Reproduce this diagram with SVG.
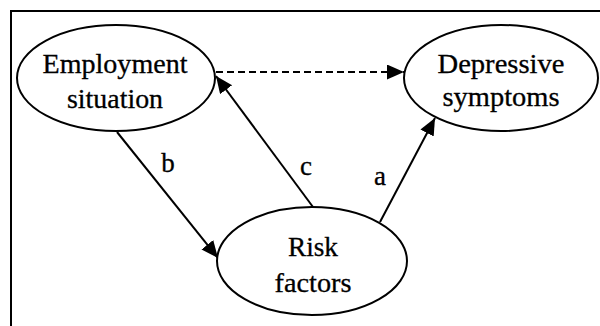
<svg xmlns="http://www.w3.org/2000/svg" width="600" height="326" viewBox="0 0 600 326">
<style>
.node{fill:#fff;stroke:#000;stroke-width:2}
.t{font-family:"Liberation Serif","Times New Roman",serif;font-size:27px;fill:#000;text-anchor:middle;stroke:#000;stroke-width:0.3}
.edge{stroke:#000;stroke-width:2;fill:none;marker-end:url(#ah)}
.dash{stroke-dasharray:7 4}
</style>
<defs>
<marker id="ah" markerUnits="userSpaceOnUse" markerWidth="20" markerHeight="16" refX="17" refY="7.5" orient="auto">
<path d="M0,0 L17,7.5 L0,15 z" fill="#000"/>
</marker>
</defs>
<rect width="600" height="326" fill="#fff"/>
<path d="M11,326 V11 H600" fill="none" stroke="#000" stroke-width="2"/>
<g id="connectors">
<line class="edge dash" x1="216" y1="72" x2="404" y2="72"/>
<line class="edge" x1="313" y1="207" x2="216" y2="76"/>
<line class="edge" x1="117" y1="132" x2="218" y2="258"/>
<line class="edge" x1="380" y1="222" x2="435" y2="118"/>
<text class="t" x="168" y="172">b</text>
<text class="t" x="306" y="175">c</text>
<text class="t" x="380" y="185">a</text>
</g>
<g id="employment">
<ellipse class="node" cx="116" cy="78" rx="99" ry="53"/>
<text class="t" x="115" y="73" textLength="145" lengthAdjust="spacingAndGlyphs">Employment</text>
<text class="t" x="115" y="108" textLength="96" lengthAdjust="spacingAndGlyphs">situation</text>
</g>
<g id="depressive">
<ellipse class="node" cx="501" cy="78" rx="97" ry="53"/>
<text class="t" x="501" y="73" textLength="127" lengthAdjust="spacingAndGlyphs">Depressive</text>
<text class="t" x="501" y="106" textLength="117" lengthAdjust="spacingAndGlyphs">symptoms</text>
</g>
<g id="risk">
<ellipse class="node" cx="312" cy="261" rx="95" ry="54"/>
<text class="t" x="313" y="256" textLength="50" lengthAdjust="spacingAndGlyphs">Risk</text>
<text class="t" x="313" y="292" textLength="77" lengthAdjust="spacingAndGlyphs">factors</text>
</g>
</svg>
